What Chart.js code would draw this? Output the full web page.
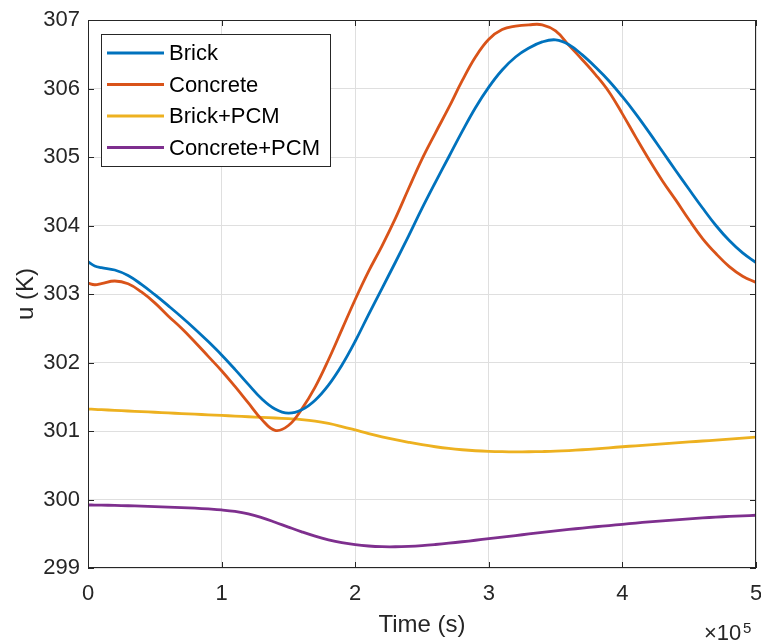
<!DOCTYPE html>
<html lang="en">
<head>
    <meta charset="UTF-8">
    <title>u (K) vs Time</title>
    <script src="https://cdn.jsdelivr.net/npm/chart.js"></script>
    <style>
        body { margin: 0; background: #fff; }
        #wrap { width: 761px; height: 640px; }
    </style>
</head>
<body>
    <div id="wrap"><canvas id="uChart" width="761" height="640"></canvas></div>

    <script>
        // time in units of 1e5 s
        const time = [0, 0.05, 0.1, 0.2, 0.3, 0.4, 0.5, 0.6, 0.7, 0.8, 0.9,
            1.0, 1.1, 1.2, 1.3, 1.4, 1.5, 1.6, 1.7, 1.8, 1.9,
            2.0, 2.1, 2.2, 2.3, 2.4, 2.5, 2.6, 2.7, 2.8, 2.9,
            3.0, 3.1, 3.2, 3.3, 3.4, 3.5, 3.6, 3.7, 3.8, 3.9,
            4.0, 4.1, 4.2, 4.3, 4.4, 4.5, 4.6, 4.7, 4.8, 4.9, 5.0];

        const brick = [303.470, 303.410, 303.385, 303.350, 303.270, 303.140, 302.990, 302.830, 302.665, 302.490, 302.305,
            302.110, 301.900, 301.680, 301.470, 301.320, 301.260, 301.310, 301.450, 301.670, 301.960,
            302.310, 302.700, 303.080, 303.460, 303.850, 304.250, 304.630, 305.000, 305.370, 305.720,
            306.020, 306.270, 306.460, 306.590, 306.680, 306.710, 306.640, 306.490, 306.310, 306.110,
            305.880, 305.630, 305.360, 305.080, 304.800, 304.525, 304.255, 304.000, 303.780, 303.600, 303.460];

        const concrete = [303.160, 303.135, 303.150, 303.190, 303.150, 303.030, 302.870, 302.680, 302.500, 302.300, 302.090,
            301.880, 301.650, 301.410, 301.170, 301.010, 301.080, 301.320, 301.640, 302.040, 302.480,
            302.920, 303.330, 303.700, 304.100, 304.540, 304.970, 305.350, 305.720, 306.110, 306.460,
            306.720, 306.860, 306.910, 306.930, 306.930, 306.840, 306.630, 306.420, 306.200, 305.950,
            305.630, 305.290, 304.960, 304.650, 304.370, 304.080, 303.810, 303.590, 303.400, 303.260, 303.170];

        const brickPcm = [301.320, 301.316, 301.311, 301.302, 301.292, 301.283, 301.274, 301.264, 301.255, 301.246, 301.236,
            301.227, 301.218, 301.208, 301.199, 301.190, 301.180, 301.167, 301.145, 301.110, 301.065,
            301.015, 300.963, 300.915, 300.873, 300.835, 300.800, 300.770, 300.745, 300.726, 300.712,
            300.703, 300.698, 300.696, 300.697, 300.700, 300.705, 300.714, 300.726, 300.740, 300.755,
            300.770, 300.784, 300.798, 300.812, 300.826, 300.840, 300.854, 300.868, 300.882, 300.896, 300.910];

        const concretePcm = [299.920, 299.919, 299.918, 299.914, 299.909, 299.903, 299.897, 299.890, 299.882, 299.873, 299.862,
            299.848, 299.826, 299.790, 299.735, 299.668, 299.597, 299.528, 299.465, 299.412, 299.370,
            299.340, 299.321, 299.311, 299.310, 299.316, 299.327, 299.343, 299.362, 299.383, 299.405,
            299.428, 299.451, 299.474, 299.497, 299.520, 299.542, 299.563, 299.583, 299.602, 299.620,
            299.638, 299.656, 299.673, 299.689, 299.704, 299.718, 299.731, 299.743, 299.753, 299.762, 299.770];

        const seriesNames = ['Brick', 'Concrete', 'Brick+PCM', 'Concrete+PCM'];
        const seriesColors = ['#0072BD', '#D95319', '#EDB120', '#7E2F8E'];
        const seriesValues = [brick, concrete, brickPcm, concretePcm];

        const axisColor = '#262626';
        const fontFamily = '"Liberation Sans", Arial, Helvetica, sans-serif';
        Chart.defaults.font.family = fontFamily;
        Chart.defaults.color = axisColor;

        const datasets = seriesNames.map((name, i) => ({
            label: name,
            data: time.map((t, j) => ({ x: t, y: seriesValues[i][j] })),
            borderColor: seriesColors[i],
            backgroundColor: seriesColors[i],
            borderWidth: 2.8,
            pointRadius: 0,
            tension: 0.4,
            fill: false
        }));

        // MATLAB-like box, inward ticks, legend and the x10^5 exponent
        const matlabFrame = {
            id: 'matlabFrame',
            afterDatasetsDraw(chart) {
                const { ctx, chartArea: a, scales } = chart;
                ctx.save();
                ctx.strokeStyle = axisColor;
                ctx.lineWidth = 1;
                ctx.strokeRect(a.left + 0.5, a.top + 0.5, a.right - a.left - 1, a.bottom - a.top - 1);
                const tl = 6;
                ctx.beginPath();
                scales.x.ticks.forEach(tk => {
                    const px = Math.round(scales.x.getPixelForValue(tk.value)) + 0.5;
                    ctx.moveTo(px, a.bottom); ctx.lineTo(px, a.bottom - tl);
                    ctx.moveTo(px, a.top); ctx.lineTo(px, a.top + tl);
                });
                scales.y.ticks.forEach(tk => {
                    const py = Math.round(scales.y.getPixelForValue(tk.value)) + 0.5;
                    ctx.moveTo(a.left, py); ctx.lineTo(a.left + tl, py);
                    ctx.moveTo(a.right, py); ctx.lineTo(a.right - tl, py);
                });
                ctx.stroke();
                ctx.restore();
            },
            afterDraw(chart) {
                const { ctx } = chart;
                ctx.save();
                // legend box
                const bx = 101, by = 34, bw = 229, bh = 132;
                ctx.fillStyle = '#ffffff';
                ctx.fillRect(bx, by, bw, bh);
                ctx.strokeStyle = axisColor;
                ctx.lineWidth = 1;
                ctx.strokeRect(bx + 0.5, by + 0.5, bw, bh);
                const rows = [53, 84.5, 116, 147.5];
                ctx.font = '22px ' + fontFamily;
                ctx.textBaseline = 'middle';
                ctx.textAlign = 'left';
                chart.data.datasets.forEach((ds, i) => {
                    ctx.strokeStyle = ds.borderColor;
                    ctx.lineWidth = 2.8;
                    ctx.beginPath();
                    ctx.moveTo(107, rows[i]);
                    ctx.lineTo(164, rows[i]);
                    ctx.stroke();
                    ctx.fillStyle = '#000000';
                    ctx.fillText(ds.label, 169, rows[i] + 1);
                });
                // exponent label
                ctx.fillStyle = axisColor;
                ctx.textBaseline = 'alphabetic';
                ctx.font = '22px ' + fontFamily;
                ctx.fillText('\u00d710', 704, 640);
                ctx.font = '15px ' + fontFamily;
                ctx.fillText('5', 743, 633);
                ctx.restore();
            }
        };

        const ctx = document.getElementById('uChart').getContext('2d');
        const uChart = new Chart(ctx, {
            type: 'line',
            data: { datasets: datasets },
            options: {
                responsive: false,
                animation: false,
                layout: { padding: { top: 20, right: 5, left: 0, bottom: 0 }, autoPadding: false },
                plugins: {
                    legend: { display: false },
                    tooltip: { enabled: false }
                },
                scales: {
                    x: {
                        type: 'linear',
                        min: 0,
                        max: 5,
                        ticks: { stepSize: 1, padding: 13, font: { size: 22 }, color: axisColor, maxRotation: 0 },
                        grid: { color: '#dfdfdf', drawTicks: false },
                        border: { display: false },
                        title: { display: true, text: 'Time (s)', font: { size: 24 }, color: axisColor, padding: { top: 0, bottom: 0 } },
                        afterFit(scale) {
                            scale.height = 72;
                            scale.paddingLeft = 0;
                            scale.paddingRight = 0;
                        }
                    },
                    y: {
                        type: 'linear',
                        min: 299,
                        max: 307,
                        ticks: { stepSize: 1, padding: 8, font: { size: 22 }, color: axisColor },
                        grid: { color: '#dfdfdf', drawTicks: false },
                        border: { display: false },
                        title: { display: true, text: 'u (K)', font: { size: 24 }, color: axisColor, padding: { top: 12, bottom: 0 } },
                        afterFit(scale) {
                            scale.width = 88;
                            scale.paddingTop = 0;
                            scale.paddingBottom = 0;
                        }
                    }
                }
            },
            plugins: [matlabFrame]
        });
    </script>
</body>
</html>
